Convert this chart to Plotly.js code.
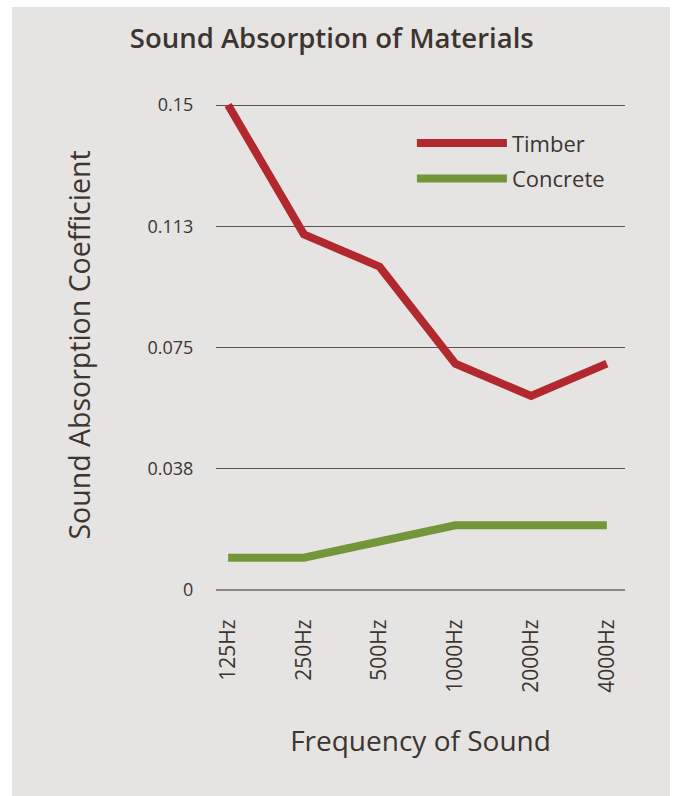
<!DOCTYPE html>
<html>
<head>
<meta charset="utf-8">
<script src="https://cdn.plot.ly/plotly-3.0.1.min.js"></script>
<style>html,body{margin:0;padding:0;background:#fff;}#chart{width:673px;height:796px;}</style>
</head>
<body>
<div id="chart"></div>
<script>
const categories = ['125Hz', '250Hz', '500Hz', '1000Hz', '2000Hz', '4000Hz'];
const timber = [0.15, 0.11, 0.10, 0.07, 0.06, 0.07];
const concrete = [0.01, 0.01, 0.015, 0.02, 0.02, 0.02];
const yTickVals = [0, 0.0375, 0.075, 0.1125, 0.15];
const yTickText = ['0', '0.038', '0.075', '0.113', '0.15'];

const textColor = '#3d3430';
const fontFamily = '"Open Sans", Lato, sans-serif';
const xIdx = categories.map((c, i) => i);

const traces = [
  {
    x: xIdx, y: timber, name: 'Timber', type: 'scatter', mode: 'lines',
    line: {color: '#b1282e', width: 8, shape: 'linear'},
    legendgroup: 'a', hoverinfo: 'x+y'
  },
  {
    x: xIdx, y: concrete, name: 'Concrete', type: 'scatter', mode: 'lines',
    line: {color: '#73963b', width: 8, shape: 'linear'},
    legendgroup: 'b', hoverinfo: 'x+y'
  }
];

const layout = {
  width: 673, height: 796,
  margin: {l: 216, r: 48, t: 90, b: 196},
  paper_bgcolor: '#ffffff',
  plot_bgcolor: 'rgba(0,0,0,0)',
  font: {family: fontFamily, color: textColor},
  title: {
    text: 'Sound Absorption of Materials',
    font: {family: fontFamily, size: 27.5, weight: 600, color: textColor},
    x: 0.493, xref: 'container', xanchor: 'center',
    y: 1 - 38 / 796, yref: 'container', yanchor: 'middle'
  },
  showlegend: true,
  legend: {
    x: 0.479, xanchor: 'left', y: 0.937, yanchor: 'top',
    bgcolor: 'rgba(0,0,0,0)',
    font: {family: fontFamily, size: 22, color: textColor},
    traceorder: 'grouped', tracegroupgap: 4, itemwidth: 90
  },
  xaxis: {
    range: [-0.16, 5.24],
    tickmode: 'array', tickvals: xIdx, ticktext: categories,
    tickangle: -90,
    tickfont: {family: fontFamily, size: 21, color: textColor},
    ticks: 'outside', ticklen: 10, tickcolor: 'rgba(0,0,0,0)',
    showgrid: false, zeroline: false, showline: false,
    title: {text: 'Frequency of Sound', font: {family: fontFamily, size: 28, color: textColor}, standoff: 39}
  },
  yaxis: {
    range: [-0.00309, 0.15464],
    tickmode: 'array', tickvals: yTickVals, ticktext: yTickText,
    tickfont: {family: fontFamily, size: 18, color: textColor},
    ticks: 'outside', ticklen: 18, tickcolor: 'rgba(0,0,0,0)',
    showgrid: true, gridcolor: '#5b534e', gridwidth: 1,
    zeroline: true, zerolinecolor: '#8c8580', zerolinewidth: 2,
    showline: false,
    title: {text: 'Sound Absorption Coefficient', font: {family: fontFamily, size: 28.5, color: textColor}, standoff: 48}
  },
  shapes: [
    {type: 'rect', xref: 'paper', yref: 'paper', layer: 'below',
     x0: (12 - 216) / 409, x1: (670 - 216) / 409,
     y0: (600 - 796) / 510, y1: (600 - 7) / 510,
     fillcolor: '#e5e4e2', line: {width: 0}}
  ]
};

Plotly.newPlot('chart', traces, layout, {displayModeBar: false, staticPlot: true});
</script>
</body>
</html>
